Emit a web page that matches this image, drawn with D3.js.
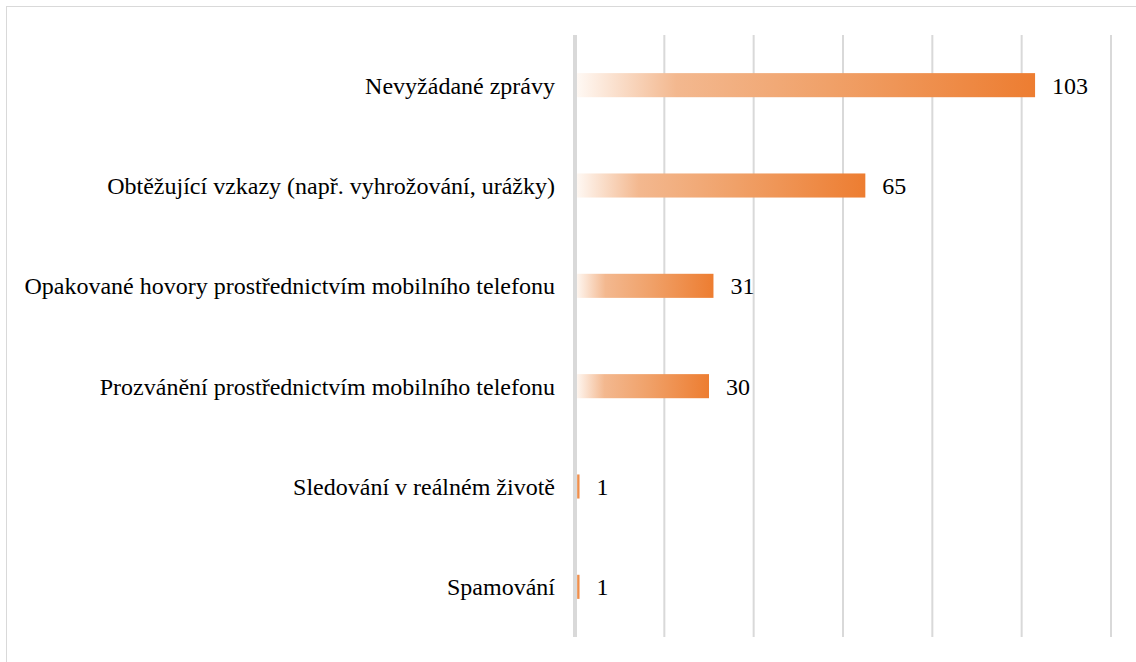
<!DOCTYPE html>
<html><head><meta charset="utf-8">
<script src="https://cdn.jsdelivr.net/npm/d3@7"></script>
<style>body{margin:0;background:#fff}svg{display:block}</style>
</head><body>
<script>
const categories = ["Nevyžádané zprávy","Obtěžující vzkazy (např. vyhrožování, urážky)","Opakované hovory prostřednictvím mobilního telefonu","Prozvánění prostřednictvím mobilního telefonu","Sledování v reálném životě","Spamování"];
const values = [103,65,31,30,1,1];
const xTicks = [0,20,40,60,80,100,120];

const W=1136,H=662;
const svg=d3.select("body").append("svg").attr("width",W).attr("height",H);
const x=d3.scaleLinear().domain([0,120]).range([575,1111]);
const y=d3.scaleBand().domain(categories).range([35,637]).paddingInner(0.76).paddingOuter(0.38);

svg.append("rect").attr("x",6.5).attr("y",6.5).attr("width",1140).attr("height",700)
  .attr("fill","#fff").attr("stroke","#d9d9d9").attr("stroke-width",1);

const defs=svg.append("defs");
const g=defs.append("linearGradient").attr("id","grad").attr("x1","0").attr("x2","1").attr("y1","0").attr("y2","0");
[[0,"#fffaf6"],[0.22,"#f3b88f"],[0.55,"#f0a169"],[1,"#ed7d31"]].forEach(s=>g.append("stop").attr("offset",s[0]).attr("stop-color",s[1]));

// gridlines
svg.append("g").selectAll("line").data(xTicks.slice(1)).join("line")
  .attr("x1",d=>x(d)).attr("x2",d=>x(d)).attr("y1",35).attr("y2",637)
  .attr("stroke","#d9d9d9").attr("stroke-width",2);

// bars
svg.append("g").selectAll("rect").data(values).join("rect")
  .attr("x",x(0)).attr("y",(d,i)=>y(categories[i]))
  .attr("width",d=>x(d)-x(0)).attr("height",y.bandwidth())
  .attr("fill","url(#grad)");

// axis line
svg.append("line").attr("x1",x(0)).attr("x2",x(0)).attr("y1",35).attr("y2",637)
  .attr("stroke","#d9d9d9").attr("stroke-width",4);

const font="Liberation Serif";
// category labels
svg.append("g").selectAll("text").data(categories).join("text")
  .attr("x",555).attr("y",d=>y(d)+y.bandwidth()/2).attr("dy","0.35em")
  .attr("text-anchor","end").style("font-family",font).style("font-size","24px").attr("fill","#000")
  .text(d=>d);

// value labels
svg.append("g").selectAll("text").data(values).join("text")
  .attr("x",d=>x(d)+17).attr("y",(d,i)=>y(categories[i])+y.bandwidth()/2).attr("dy","0.35em")
  .style("font-family",font).style("font-size","24px").attr("fill","#000")
  .text(d=>d);
</script>
</body></html>
